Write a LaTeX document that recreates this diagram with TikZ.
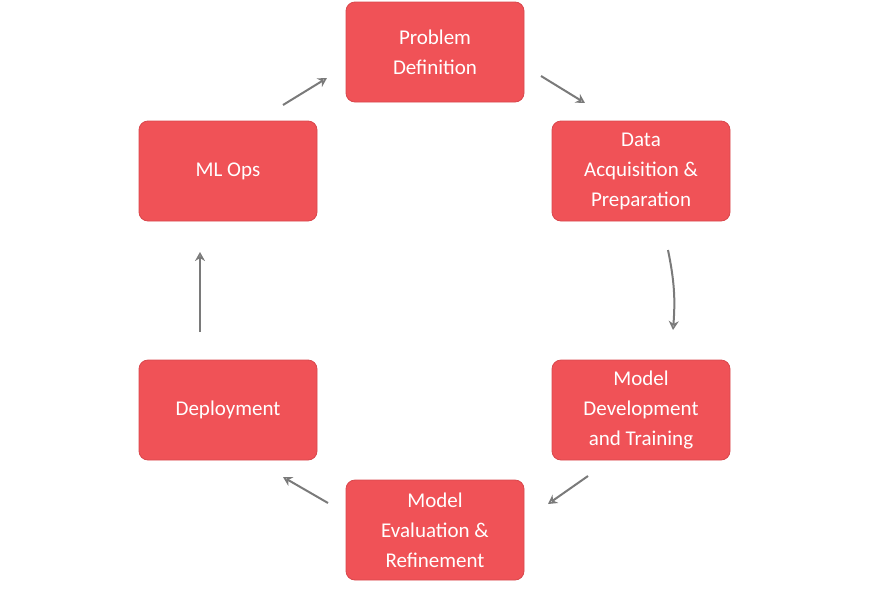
\documentclass[tikz,border=0pt]{standalone}
\usepackage{fontspec}
\setmainfont{Carlito}
\usetikzlibrary{arrows.meta}
\begin{document}
\begin{tikzpicture}[x=1pt,y=-1pt,
  stage/.style={fill=boxred,draw=boxedge,line width=0.8pt,rounded corners=9pt,minimum width=178pt,minimum height=100pt,text=white,align=center,font=\fontsize{21}{30}\selectfont},
  flow/.style={draw=arrgray,line width=2pt,-{Stealth[length=9pt,width=10pt,open]}}]
\definecolor{boxred}{HTML}{F05257}
\definecolor{boxedge}{HTML}{D9474C}
\definecolor{arrgray}{HTML}{7A7A7A}
\useasboundingbox (0,0) rectangle (870,592);
\node[stage] (pd) at (435,52) {Problem\\Definition};
\node[stage] (da) at (641,171) {Data\\Acquisition \&\\Preparation};
\node[stage] (md) at (641,410) {Model\\Development\\and Training};
\node[stage] (me) at (435,530) {Model\\Evaluation \&\\Refinement};
\node[stage] (dp) at (228,410) {Deployment};
\node[stage] (ml) at (228,171) {ML Ops};
\coordinate (a1s) at (283,105); \coordinate (a1e) at (327,78);
\coordinate (a2s) at (541,76); \coordinate (a2e) at (585,103);
\coordinate (a3s) at (668,250); \coordinate (a3e) at (673,330);
\coordinate (a4s) at (588,476); \coordinate (a4e) at (548,504);
\coordinate (a5s) at (328,503); \coordinate (a5e) at (283,477);
\coordinate (a6s) at (200,332); \coordinate (a6e) at (200,252);
\draw[flow] (a1s) -- (a1e);
\draw[flow] (a2s) -- (a2e);
\draw[flow] (a3s) to[bend left=8] (a3e);
\draw[flow] (a4s) -- (a4e);
\draw[flow] (a5s) -- (a5e);
\draw[flow] (a6s) -- (a6e);
\end{tikzpicture}
\end{document}
